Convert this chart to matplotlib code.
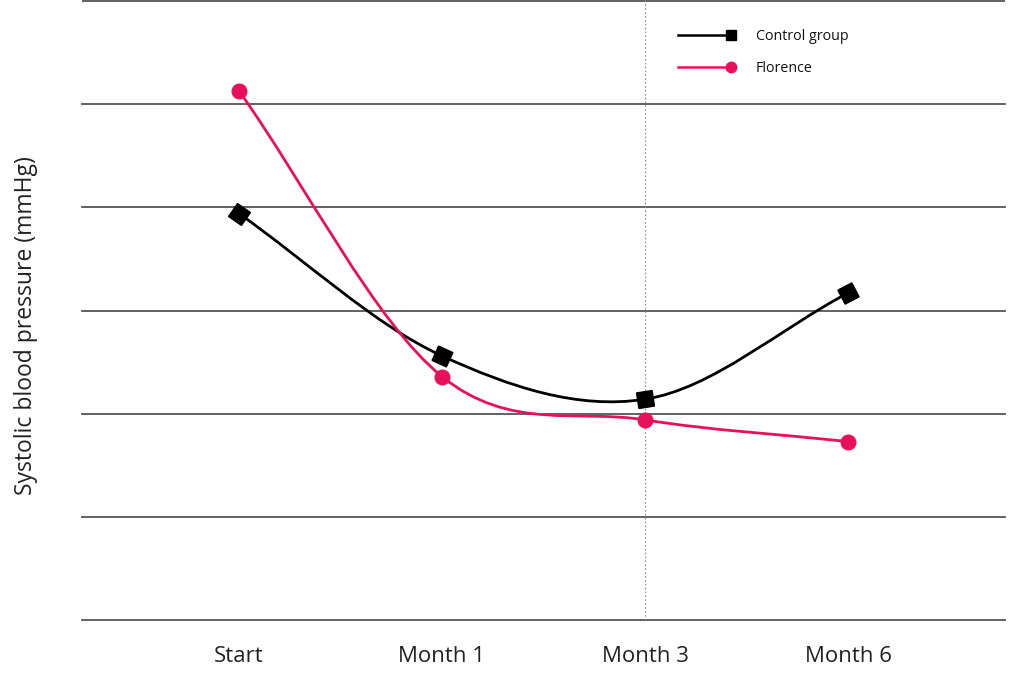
import numpy as np
import matplotlib
matplotlib.use("Agg")
import matplotlib.pyplot as plt
from matplotlib.path import Path
from matplotlib.patches import PathPatch

plt.rcParams['font.family'] = ['Open Sans', 'DejaVu Sans']

# data (no scale shown on the y axis, so arbitrary units: one unit per gridline)
timepoints = ['Start', 'Month 1', 'Month 3', 'Month 6']
control = [3.94, 2.56, 2.14, 3.17]
florence = [5.13, 2.36, 1.94, 1.73]

BLACK = '#000000'
PINK = '#E8105A'


def smooth_path(xs, ys):
    # Catmull-Rom through the points, written as cubic bezier segments
    p = np.column_stack([xs, ys]).astype(float)
    n = len(p)
    tang = np.zeros_like(p)
    tang[0] = p[1] - p[0]
    tang[-1] = p[-1] - p[-2]
    for i in range(1, n - 1):
        tang[i] = (p[i + 1] - p[i - 1]) / 2
    verts = [p[0]]
    codes = [Path.MOVETO]
    for i in range(n - 1):
        verts += [p[i] + tang[i] / 3, p[i + 1] - tang[i + 1] / 3, p[i + 1]]
        codes += [Path.CURVE4] * 3
    return Path(verts, codes)


fig = plt.figure(figsize=(10.24, 6.84), dpi=100)
ax = fig.add_axes([82 / 1024, 64 / 684, 923 / 1024, 620 / 684])

x = np.arange(len(timepoints))
ax.set_xlim(-0.773, 3.773)
ax.set_ylim(0, 6.01)

# gridlines
for g in range(0, 7):
    ax.axhline(g, color='#555555', lw=1.3, zorder=1, clip_on=(g == 6))
ax.axvline(2, color='#888888', lw=0.8, ls=(0, (1.5, 2)), zorder=1)

for vals, col in [(control, BLACK), (florence, PINK)]:
    ax.add_patch(PathPatch(smooth_path(x, vals), fill=False, edgecolor=col,
                           lw=2.0, zorder=3, capstyle='round'))

# markers: control squares turned along the line direction
fig.canvas.draw()
pts = ax.transData.transform(np.column_stack([x, control]))
for i in range(len(x)):
    a = pts[max(i - 1, 0)]
    b = pts[min(i + 1, len(x) - 1)]
    ang = np.degrees(np.arctan2(b[1] - a[1], b[0] - a[0]))
    ax.plot(x[i], control[i], marker=(4, 0, 45 + ang), ms=16, color=BLACK,
            ls='none', zorder=4)
ax.plot(x, florence, 'o', ms=10.5, color=PINK, zorder=4)

ax.set_xticks(x)
ax.set_xticklabels(timepoints, fontsize=16, color='#222222')
ax.tick_params(axis='x', length=0, pad=19)
ax.set_yticks([])
for s in ax.spines.values():
    s.set_visible(False)

fig.text(26 / 1024, 1 - 326 / 684, 'Systolic blood pressure (mmHg)', rotation=90,
         ha='center', va='center', fontsize=16.5, color='#222222')

# legend drawn by hand: line with the marker at its right end
for yy, col, mk, ms, lab in [(35, BLACK, 's', 7, 'Control group'),
                             (67, PINK, 'o', 7.5, 'Florence')]:
    yf = 1 - yy / 684
    fig.add_artist(plt.Line2D([678 / 1024, 731 / 1024], [yf, yf], color=col, lw=1.8,
                              transform=fig.transFigure))
    fig.add_artist(plt.Line2D([731 / 1024], [yf], color=col, marker=mk, ms=ms,
                              transform=fig.transFigure))
    fig.text(756 / 1024, yf - 2 / 684, lab, fontsize=10.3, va='center', color='#111111')

fig.savefig('out.png', dpi=100)
